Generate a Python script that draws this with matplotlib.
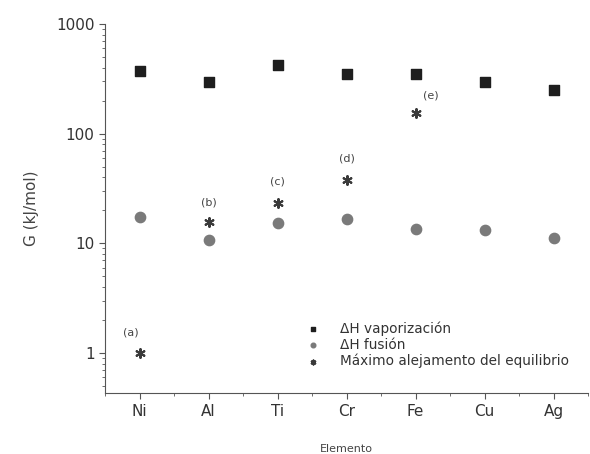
import matplotlib
matplotlib.use("Agg")
import matplotlib.pyplot as plt
from matplotlib.ticker import LogLocator, NullFormatter, FixedLocator

elements = ["Ni", "Al", "Ti", "Cr", "Fe", "Cu", "Ag"]
h_vap = [370, 294, 425, 348, 348, 295, 250]
h_fus = [17.5, 10.7, 15.2, 16.8, 13.6, 13.1, 11.2]
star_idx = [0, 1, 2, 3, 4]
max_dev = [1.0, 15.5, 23.5, 38, 155]
labels = ["(a)", "(b)", "(c)", "(d)", "(e)"]
label_offsets = [(-6, 14.5), (0, 14.5), (0, 15), (0, 15), (11, 12.5)]

fig = plt.figure(figsize=(5.9, 4.54), dpi=100)
ax = fig.add_axes([0.178, 0.134, 0.819, 0.813])

x = list(range(len(elements)))
ax.scatter(x, h_vap, marker="s", s=55, color="#1e1e1e", label="ΔH vaporización", zorder=3)
ax.scatter(x, h_fus, marker="o", s=55, color="#7a7a7a", label="ΔH fusión", zorder=3)
ax.scatter(star_idx, max_dev, marker=(6, 2, 0), s=40, color="#3a3a3a", linewidths=1.5,
           label="Máximo alejamento del equilibrio", zorder=3)

for i, v, t, (dx, dy) in zip(star_idx, max_dev, labels, label_offsets):
    ax.annotate(t, (i, v), xytext=(dx, dy), textcoords="offset points",
                ha="center", va="center", fontsize=8, color="#444444")

ax.set_yscale("log")
ax.set_ylim(0.43, 1000)
ax.set_xlim(-0.5, 6.5)
ax.set_xticks(x)
ax.set_xticklabels(elements, fontsize=11, color="#333333")
ax.xaxis.set_minor_locator(FixedLocator([i + 0.5 for i in range(-1, 7)]))
ax.set_yticks([1, 10, 100, 1000])
ax.set_yticklabels(["1", "10", "100", "1000"], fontsize=11, color="#333333")
ax.yaxis.set_minor_locator(LogLocator(base=10, subs=range(2, 10)))
ax.yaxis.set_minor_formatter(NullFormatter())

for s in ["top", "right"]:
    ax.spines[s].set_visible(False)
for s in ["left", "bottom"]:
    ax.spines[s].set_color("#555555")
ax.tick_params(which="major", direction="out", length=4, color="#555555")
ax.tick_params(which="minor", direction="out", length=2, color="#555555")

ax.set_xlabel("Elemento", fontsize=8, color="#444444", labelpad=18)
ax.set_ylabel("G (kJ/mol)", fontsize=11, color="#444444", labelpad=12)

leg = ax.legend(loc="lower right", bbox_to_anchor=(0.978, 0.045), frameon=False, fontsize=9.8,
                markerscale=0.45, handletextpad=1.0, labelspacing=0.15, borderaxespad=0.2)
for t in leg.get_texts():
    t.set_color("#333333")

fig.savefig("out.png", dpi=100)
